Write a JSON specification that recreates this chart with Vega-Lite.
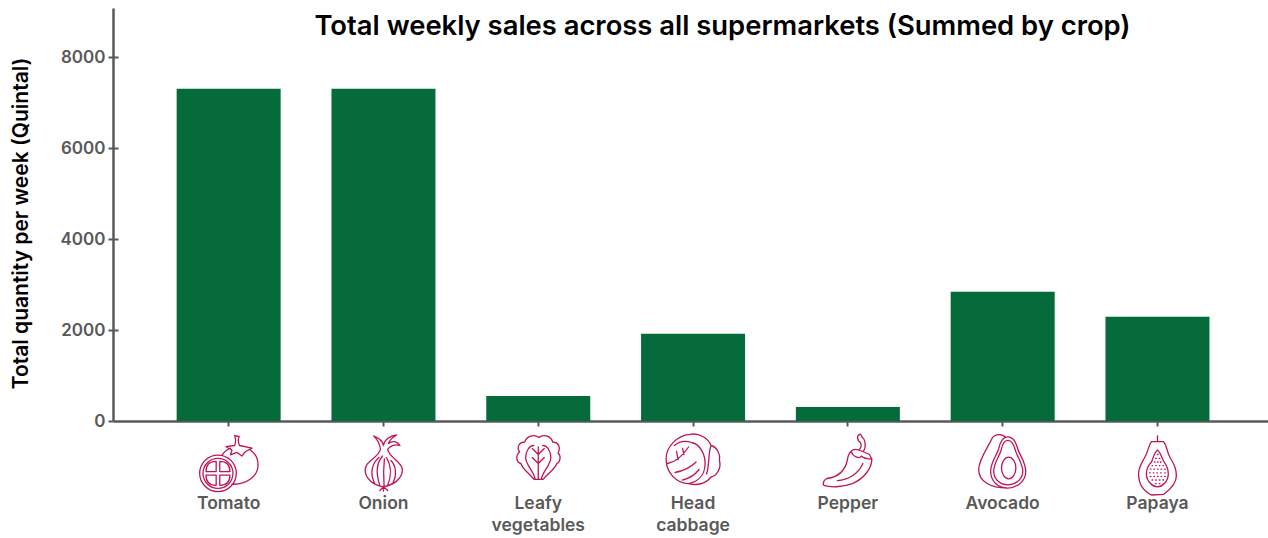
{"$schema":"https://vega.github.io/schema/vega-lite/v6.json","width":1155,"height":413,"autosize":"none","padding":{"left":113,"top":8,"right":0,"bottom":117},"background":"white","config":{"view":{"stroke":null}},
"title":{"text":"Total weekly sales across all supermarkets (Summed by crop)","font":"Inter","fontSize":27.4,"fontWeight":600,"color":"#000000","anchor":"middle","dx":32,"dy":36,"frame":"group"},
"data":{"values":[{"crop":"Tomato","value":7300},{"crop":"Onion","value":7300},{"crop":"Leafy vegetables","value":550},{"crop":"Head cabbage","value":1915},{"crop":"Pepper","value":305},{"crop":"Avocado","value":2840},{"crop":"Papaya","value":2290}]},
"encoding":{"x":{"field":"crop","type":"nominal","sort":null,"scale":{"type":"band","paddingInner":0.328,"paddingOuter":0.3945,"align":0.521},"axis":{"title":null,"labelAngle":0,"labelFont":"Inter","labelFontSize":17.5,"labelFontWeight":600,"labelColor":"#595959","labelPadding":68,"labelLineHeight":22,"labelBaseline":"top","labelExpr":"split(datum.label,' ')","domainColor":"#595959","domainWidth":2.5,"tickColor":"#595959","tickWidth":2,"tickSize":5,"grid":false}}},
"resolve":{"axis":{"y":"independent"}},
"layer":[
{"mark":{"type":"bar","color":"#066B3B","size":104},"encoding":{"y":{"field":"value","type":"quantitative","scale":{"domain":[0,9077],"nice":false},"axis":{"title":"Total quantity per week (Quintal)","titleFont":"Inter","titleFontSize":21,"titleFontWeight":600,"titleColor":"#000000","titlePadding":29,"titleY":215,"values":[0,2000,4000,6000,8000],"labelFont":"Inter","labelFontSize":17,"labelFontWeight":600,"labelColor":"#595959","labelPadding":3,"domainColor":"#595959","domainWidth":2.5,"tickColor":"#595959","tickWidth":2,"tickSize":5,"grid":false,"format":"d"}}}},
{"mark":{"type":"point","filled":false,"stroke":"#BE1558","strokeWidth":1.3,"strokeCap":"round","strokeJoin":"round","size":3600,"opacity":1,"clip":false},"encoding":{"y":{"datum":-901,"type":"quantitative","axis":{"orient":"left","title":null,"labels":false,"domain":false,"grid":false,"values":[2000,4000,6000,8000],"tickSize":-5,"tickColor":"#595959","tickWidth":2}},"shape":{"field":"crop","type":"nominal","legend":null,"scale":{"domain":["Tomato","Onion","Leafy vegetables","Head cabbage","Pepper","Avocado","Papaya"],"range":[
"M-0.966 0.378C-0.966 0.041 -0.693 -0.232 -0.356 -0.232C-0.019 -0.232 0.254 0.041 0.254 0.378C0.254 0.715 -0.019 0.988 -0.356 0.988C-0.693 0.988 -0.966 0.715 -0.966 0.378ZM-0.856 0.378C-0.856 0.102 -0.632 -0.122 -0.356 -0.122C-0.08 -0.122 0.144 0.102 0.144 0.378C0.144 0.654 -0.08 0.878 -0.356 0.878C-0.632 0.878 -0.856 0.654 -0.856 0.378ZM-0.416 0.318L-0.416 -0.02Q-0.754 -0.02 -0.754 0.318ZM-0.296 0.318L-0.296 -0.02Q0.042 -0.02 0.042 0.318ZM-0.416 0.438L-0.416 0.776Q-0.754 0.776 -0.754 0.438ZM-0.296 0.438L-0.296 0.776Q0.042 0.776 0.042 0.438ZM0.72 -0.4C0.9 -0.28 0.98 -0.1 0.98 0.1C0.98 0.48 0.6 0.76 0.11 0.74M-0.22 -0.23C-0.15 -0.33 -0.05 -0.42 0.06 -0.46M-0.09 -0.51L0.2 -0.55C0.24 -0.65 0.25 -0.75 0.2 -0.88L0.35 -0.85C0.3 -0.75 0.32 -0.65 0.36 -0.55L0.78 -0.46L0.55 -0.34L0.44 -0.2L0.28 -0.32L0.06 -0.24L0.11 -0.4Z",
"M-0.1 -0.42C-0.2 -0.1 -0.61 -0.05 -0.61 0.27C-0.61 0.58 -0.3 0.78 0 0.82C0.3 0.78 0.63 0.58 0.63 0.27C0.63 -0.02 0.22 -0.1 0.14 -0.42M-0.1 -0.42C-0.12 -0.6 -0.2 -0.75 -0.33 -0.87C-0.15 -0.8 -0.03 -0.7 0 -0.55C0.02 -0.72 0.2 -0.88 0.44 -0.9C0.3 -0.82 0.2 -0.72 0.17 -0.62C0.3 -0.72 0.45 -0.7 0.55 -0.55C0.4 -0.6 0.22 -0.55 0.14 -0.42M-0.3 0.7C-0.45 0.4 -0.4 0.05 -0.15 -0.15M-0.12 0.78C-0.25 0.4 -0.25 0.05 -0.03 -0.2M0.02 0.8C0 0.5 0 0.2 0.03 -0.1M0.14 0.78C0.28 0.45 0.25 0.1 0.1 -0.15M0.32 0.68C0.45 0.45 0.42 0.12 0.25 -0.05M0 0.82L-0.12 0.95M0 0.82L0 0.97M0 0.82L0.14 0.95",
"M-0.14 0.58L0.16 0.58C0.3 0.4 0.55 0.25 0.62 0.05C0.72 0.02 0.78 -0.2 0.66 -0.3C0.76 -0.5 0.66 -0.68 0.48 -0.66C0.44 -0.85 0.2 -0.95 0.02 -0.82C-0.15 -0.95 -0.4 -0.85 -0.45 -0.66C-0.62 -0.68 -0.74 -0.5 -0.62 -0.33C-0.78 -0.2 -0.72 0.02 -0.58 0.05C-0.52 0.25 -0.28 0.4 -0.14 0.58ZM0 0.58L0 -0.5M0 -0.25L-0.2 -0.45M0 -0.25L0.2 -0.45M0 0.05L-0.2 -0.15M0 0.05L0.2 -0.15M-0.1 0.58C-0.15 0.3 -0.42 0.1 -0.42 -0.15C-0.42 -0.35 -0.3 -0.55 -0.15 -0.55M0.1 0.58C0.15 0.3 0.42 0.1 0.42 -0.15C0.42 -0.35 0.3 -0.55 0.15 -0.55",
"M-0.1 -0.92C0.2 -0.98 0.5 -0.8 0.6 -0.55C0.8 -0.5 0.92 -0.25 0.88 -0.05C0.95 0.2 0.8 0.45 0.6 0.5C0.4 0.75 0.1 0.78 -0.15 0.72C-0.55 0.72 -0.9 0.35 -0.9 -0.1C-0.9 -0.5 -0.55 -0.88 -0.1 -0.92ZM-0.62 -0.55C-0.4 -0.75 -0.2 -0.7 -0.05 -0.65C0.25 -0.6 0.42 -0.2 0.4 0.1C0.38 0.4 0.2 0.65 -0.15 0.72M0.6 -0.55C0.5 -0.3 0.55 0.1 0.45 0.4M-0.85 0.05C-0.6 0 -0.35 -0.2 -0.15 -0.5M-0.5 -0.08L-0.55 -0.35M-0.3 -0.25L-0.35 -0.45M-0.6 0.35C-0.35 0.3 -0.1 0.2 0.1 0M-0.35 0.6C-0.15 0.55 0.05 0.45 0.2 0.25",
"M0.42 -0.93C0.28 -0.9 0.3 -0.72 0.42 -0.65C0.46 -0.55 0.44 -0.45 0.35 -0.4L0.5 -0.35C0.62 -0.45 0.58 -0.75 0.5 -0.8C0.45 -0.85 0.45 -0.9 0.42 -0.93ZM0.1 -0.35C0.2 -0.45 0.3 -0.42 0.35 -0.4L0.5 -0.35L0.72 -0.25L0.8 -0.1C0.8 0.2 0.55 0.55 0.15 0.72C-0.2 0.85 -0.6 0.85 -0.8 0.78C-0.85 0.7 -0.8 0.6 -0.7 0.55C-0.3 0.5 -0.1 0.3 -0.02 -0.05C0 -0.2 0.05 -0.3 0.1 -0.35ZM0.1 -0.35C0.2 -0.15 0.4 -0.1 0.45 -0.2C0.55 -0.1 0.7 -0.1 0.8 -0.1M-0.35 0.62C0 0.6 0.35 0.4 0.5 0.05",
"M0.1 -0.82C-0.02 -0.95 -0.25 -0.95 -0.35 -0.8C-0.42 -0.6 -0.8 -0.1 -0.8 0.25C-0.8 0.65 -0.4 0.87 0.15 0.87M0.17 -0.84C0.38 -0.84 0.45 -0.6 0.5 -0.45C0.55 -0.25 0.77 0 0.77 0.32C0.77 0.66 0.45 0.87 0.17 0.87C-0.15 0.87 -0.4 0.66 -0.4 0.3C-0.4 0 -0.18 -0.25 -0.13 -0.45C-0.1 -0.6 -0.03 -0.84 0.17 -0.84ZM0.17 -0.72C0.32 -0.72 0.38 -0.55 0.42 -0.4C0.47 -0.2 0.67 0.05 0.67 0.32C0.67 0.58 0.42 0.76 0.17 0.76C-0.08 0.76 -0.3 0.58 -0.3 0.3C-0.3 0.05 -0.1 -0.2 -0.05 -0.4C-0.02 -0.55 0.02 -0.72 0.17 -0.72ZM-0.04 0.2C-0.04 0 0.07 -0.16 0.2 -0.16C0.33 -0.16 0.44 0 0.44 0.2C0.44 0.4 0.33 0.56 0.2 0.56C0.07 0.56 -0.04 0.4 -0.04 0.2Z",
"M0 -0.87L0 -0.68M-0.2 -0.68L0.2 -0.68C0.32 -0.55 0.3 -0.35 0.42 -0.15C0.55 0.05 0.63 0.25 0.63 0.45C0.63 0.8 0.3 1 0.2 1.08L-0.2 1.1C-0.4 1 -0.63 0.8 -0.63 0.4C-0.63 0.15 -0.5 0 -0.4 -0.2C-0.3 -0.4 -0.3 -0.55 -0.2 -0.68ZM0 -0.4C0.12 -0.3 0.15 -0.1 0.22 0C0.33 0.15 0.36 0.3 0.36 0.4C0.36 0.65 0.15 0.83 0 0.83C-0.15 0.83 -0.37 0.65 -0.37 0.4C-0.37 0.25 -0.3 0.1 -0.2 0C-0.15 -0.1 -0.12 -0.3 0 -0.4ZM0 -0.25l0.02 0M-0.06 -0.12l0.02 0M0.06 -0.12l0.02 0M-0.1 0l0.02 0M0 0l0.02 0M0.1 0l0.02 0M-0.18 0.12l0.02 0M-0.06 0.12l0.02 0M0.06 0.12l0.02 0M0.18 0.12l0.02 0M-0.24 0.24l0.02 0M-0.12 0.24l0.02 0M0 0.24l0.02 0M0.12 0.24l0.02 0M0.24 0.24l0.02 0M-0.26 0.36l0.02 0M-0.14 0.36l0.02 0M-0.02 0.36l0.02 0M0.1 0.36l0.02 0M0.24 0.36l0.02 0M-0.24 0.48l0.02 0M-0.12 0.48l0.02 0M0 0.48l0.02 0M0.12 0.48l0.02 0M0.24 0.48l0.02 0M-0.18 0.6l0.02 0M-0.06 0.6l0.02 0M0.06 0.6l0.02 0M0.18 0.6l0.02 0M-0.06 0.72l0.02 0M0.06 0.72l0.02 0"
]}}}}
]}
